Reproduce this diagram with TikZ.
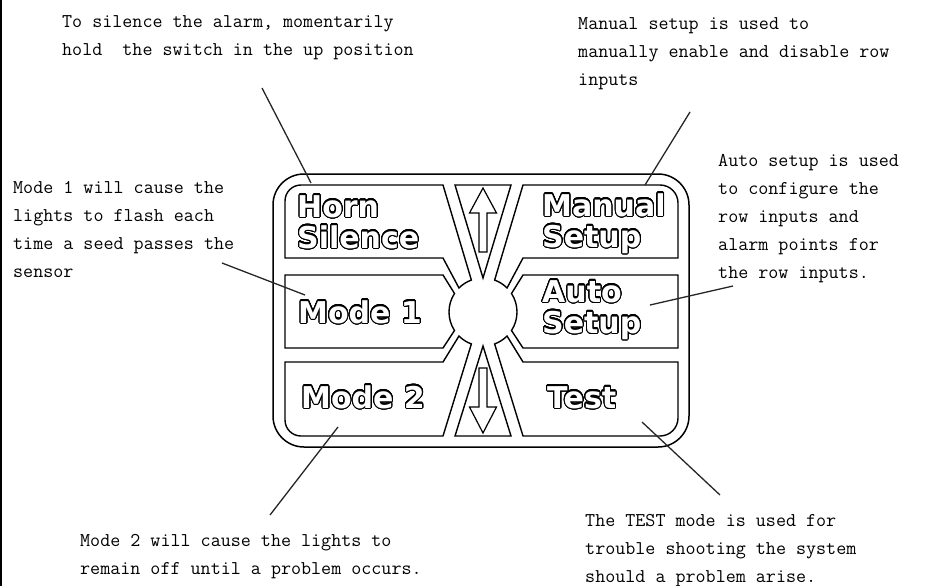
\documentclass[tikz,border=0pt]{standalone}
\usepackage{fontspec}
\usepackage{contour}
\usetikzlibrary{calc}
\newfontfamily\keyfont{DejaVu Sans}[BoldFont={DejaVu Sans Bold}]
\contourlength{1.1pt}
\contournumber{32}
\newcommand\keylbl[1]{\textcolor{white}{\contour{black}{#1}}}
\tikzset{
  keypad/.style={line width=1.4pt, fill=white},
  keytxt/.style={font=\keyfont\bfseries\fontsize{30}{31}\selectfont, align=left, anchor=base west, inner sep=0pt},
  note/.style={font=\ttfamily\fontsize{19.5}{28}\selectfont, align=left, anchor=base west, inner sep=0pt},
  leader/.style={line width=1.3pt, draw=black!85},
  arr/.style={line width=1.2pt, fill=white}
}

\begin{document}
\begin{tikzpicture}[x=1pt, y=-1pt]

  \useasboundingbox (0,0) rectangle (934,586);

  \draw[line width=1.5pt] (1,0) -- (1,586);

  \coordinate (c) at (483,312);

  % panel frame
  \draw[line width=1.5pt, rounded corners=31pt] (273,174) rectangle (689,447);

  % keys, left column
  \draw[keypad] (285,258) -- (285,201) arc[start angle=180, end angle=270, radius=16]
    -- (443,185) -- ($(c)+(250:34)$) arc[start angle=250, end angle=225, radius=34]
    -- (443,258) -- cycle;
  \draw[keypad] (285,275) -- (443,275) -- ($(c)+(213:34)$)
    arc[start angle=213, end angle=147, radius=34] -- (443,348) -- (285,348) -- cycle;
  \draw[keypad] (285,362) -- (443,362) -- ($(c)+(135:34)$)
    arc[start angle=135, end angle=110, radius=34] -- (443,436)
    -- (301,436) arc[start angle=90, end angle=180, radius=16] -- cycle;

  % keys, right column
  \draw[keypad] (523,185) -- (660,185) arc[start angle=270, end angle=360, radius=18]
    -- (678,258) -- (523,258) -- ($(c)+(315:34)$)
    arc[start angle=315, end angle=290, radius=34] -- cycle;
  \draw[keypad] (523,275) -- (678,275) -- (678,348) -- (523,348) -- ($(c)+(33:34)$)
    arc[start angle=33, end angle=-33, radius=34] -- cycle;
  \draw[keypad] (523,362) -- (678,362) -- (678,418) arc[start angle=0, end angle=90, radius=18]
    -- (523,436) -- ($(c)+(70:34)$) arc[start angle=70, end angle=45, radius=34] -- cycle;

  % up / down keys
  \draw[keypad] (455,185) -- (511,185) -- ($(c)+(270:34)$) -- cycle;
  \draw[keypad] (455,436) -- (511,436) -- ($(c)+(90:34)$) -- cycle;
  \draw[arr] (483,188) -- (496.5,213) -- (487,213) -- (487,252) -- (479,252)
    -- (479,213) -- (469.5,213) -- cycle;
  \draw[arr] (483,433) -- (496.5,407) -- (487,407) -- (487,368) -- (479,368)
    -- (479,407) -- (469.5,407) -- cycle;

  % key labels (base = last line)
  \node[keytxt] (horn) at (297,248) {\keylbl{Horn}\\\keylbl{Silence}};
  \node[keytxt] (mode1) at (298,323) {\keylbl{Mode 1}};
  \node[keytxt] (mode2) at (301,408) {\keylbl{Mode 2}};
  \node[keytxt] (manual) at (542,247) {\keylbl{Manual}\\\keylbl{Setup}};
  \node[keytxt] (auto) at (542,333) {\keylbl{Auto}\\\keylbl{Setup}};
  \node[keytxt] (test) at (547,408) {\keylbl{Test}};

  % notes (base = last line)
  \node[note] (hornnote) at (62,56) {To silence the alarm, momentarily\\hold~ the switch in the up position};
  \node[note] (mannote) at (578,85) {Manual setup is used to\\manually enable and disable row\\inputs};
  \node[note] (m1note) at (13,277) {Mode 1 will cause the\\lights to flash each\\time a seed passes the\\sensor};
  \node[note] (autonote) at (718,278) {Auto setup is used\\to configure the\\row inputs and\\alarm points for\\the row inputs.};
  \node[note] (m2note) at (80,574) {Mode 2 will cause the lights to\\remain off until a problem occurs.};
  \node[note] (testnote) at (585,582) {The TEST mode is used for\\trouble shooting the system\\should a problem arise.};

  % leaders
  \coordinate (hornA) at (262,88);   \coordinate (hornB) at (311,183);
  \coordinate (manA) at (690,112);   \coordinate (manB) at (645,185);
  \coordinate (m1A) at (222,263);    \coordinate (m1B) at (305,295);
  \coordinate (autoA) at (733,286);  \coordinate (autoB) at (650,305);
  \coordinate (m2A) at (270,515);    \coordinate (m2B) at (338,427);
  \coordinate (testA) at (720,495);  \coordinate (testB) at (642,422);

  \draw[leader] (hornA) -- (hornB);
  \draw[leader] (manA) -- (manB);
  \draw[leader] (m1A) -- (m1B);
  \draw[leader] (autoA) -- (autoB);
  \draw[leader] (m2A) -- (m2B);
  \draw[leader] (testA) -- (testB);

\end{tikzpicture}
\end{document}
